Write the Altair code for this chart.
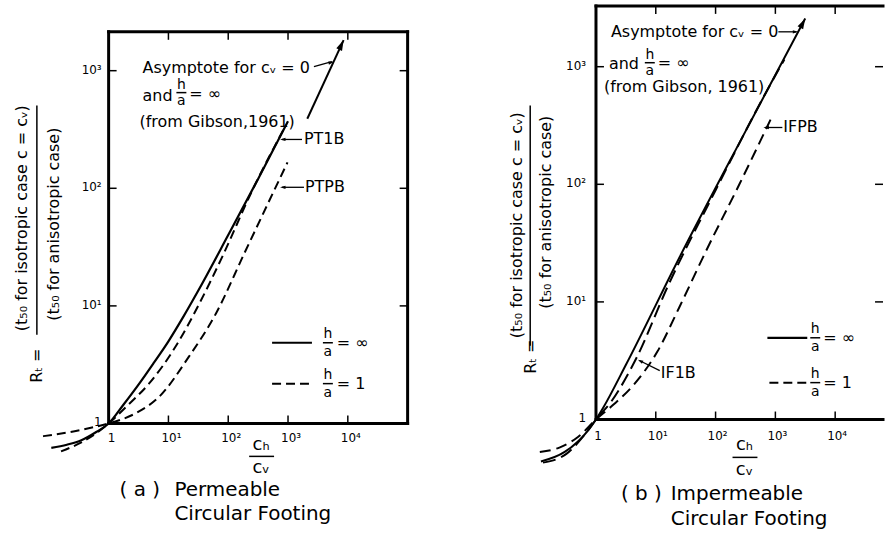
import altair as alt
import pandas as pd

FONT = "DejaVu Sans"
W, H = 443, 548  # each panel's drawing area

# ---------------- data ----------------
# Panel (a): permeable circular footing
a_solid_x = [0.11, 0.2, 0.35, 0.63, 1, 1.78, 3.16, 5.6, 10, 17.8, 31.6, 100, 316, 1000]
a_solid_y = [0.62, 0.66, 0.72, 0.85, 1, 1.45, 2.14, 3.24, 5.0, 8.1, 13.5, 40, 120, 372]
a_pt1b_x = [0.16, 0.35, 0.63, 1, 2, 4.8, 13.5, 33, 79, 250, 910]
a_pt1b_y = [0.58, 0.69, 0.83, 1, 1.4, 2.2, 4.6, 10.5, 26, 95, 340]
a_ptpb_x = [0.08, 0.27, 0.56, 1, 2.9, 7.1, 22, 63, 186, 980]
a_ptpb_y = [0.78, 0.86, 0.93, 1, 1.23, 1.7, 3.7, 8.7, 28, 166]
a_asym_x = [2100, 8500]
a_asym_y = [390, 1820]

# Panel (b): impermeable circular footing
b_solid_x = [0.12, 0.3, 0.74, 1, 1.32, 3.2, 25, 316, 3160]
b_solid_y = [0.44, 0.53, 0.81, 1, 1.26, 2.95, 24, 282, 2570]
b_if1b_x = [0.13, 0.32, 0.71, 1, 1.78, 4.7, 15.8, 100, 790, 1410]
b_if1b_y = [0.43, 0.51, 0.79, 1, 1.41, 3.3, 13.5, 89, 680, 1150]
b_ifpb_x = [0.115, 0.25, 0.5, 1, 1.9, 4.0, 10.7, 25, 69, 250, 830]
b_ifpb_y = [0.53, 0.58, 0.71, 1, 1.32, 1.9, 3.8, 9.1, 27, 100, 355]

x_ticks = [1, 10, 100, 1000, 10000]
x_tick_labels = ["1", "10¹", "10²", "10³", "10⁴"]
y_ticks = [1, 10, 100, 1000]
y_tick_labels = ["1", "10¹", "10²", "10³"]

ARROW = "M0,0L0.6,2L-0.6,2Z"


def log_scale(lo, hi):
    return alt.Scale(type="log", domain=[lo, hi], nice=False)


def curve(xs, ys, XS, YS, dash=None, width=2.2):
    df = pd.DataFrame({"x": xs, "y": ys})
    kw = dict(color="black", strokeWidth=width, interpolate="monotone")
    if dash:
        kw["strokeDash"] = dash
    return alt.Chart(df).mark_line(**kw).encode(
        x=alt.X("x:Q", scale=XS, axis=None),
        y=alt.Y("y:Q", scale=YS, axis=None),
    )


def frame(segs, XS, YS):
    df = pd.DataFrame(segs, columns=["x", "y", "x2", "y2"])
    return alt.Chart(df).mark_rule(color="black", strokeWidth=3, strokeCap="square").encode(
        x=alt.X("x:Q", scale=XS, axis=None), y=alt.Y("y:Q", scale=YS, axis=None),
        x2="x2:Q", y2="y2:Q")


def ticks(XS, YS, xlo, xhi, ylo, yhi, L=8, draw_right=True):
    xt = [v for v in x_ticks if v > 1]
    yt = [v for v in y_ticks if v > 1]
    out = []
    bot = pd.DataFrame({"x": xt, "y": [ylo] * len(xt)})
    top = pd.DataFrame({"x": xt, "y": [yhi] * len(xt)})
    lef = pd.DataFrame({"x": [xlo] * len(yt), "y": yt})
    rig = pd.DataFrame({"x": [xhi] * len(yt), "y": yt})
    for df, off in [(bot, dict(y2Offset=-L)), (top, dict(y2Offset=L))]:
        out.append(alt.Chart(df).mark_rule(color="black", strokeWidth=1.5, **off).encode(
            x=alt.X("x:Q", scale=XS, axis=None), y=alt.Y("y:Q", scale=YS, axis=None), y2="y:Q"))
    sides = [(lef, dict(x2Offset=L))]
    if draw_right:
        sides.append((rig, dict(x2Offset=-L)))
    for df, off in sides:
        out.append(alt.Chart(df).mark_rule(color="black", strokeWidth=1.5, **off).encode(
            x=alt.X("x:Q", scale=XS, axis=None), y=alt.Y("y:Q", scale=YS, axis=None), x2="x:Q"))
    return out


def tick_labels(XS, YS, xdy, xdx, ydx):
    dfx = pd.DataFrame({"v": x_ticks, "one": [1] * len(x_ticks), "t": x_tick_labels})
    dfy = pd.DataFrame({"v": y_ticks, "one": [1] * len(y_ticks), "t": y_tick_labels})
    lx = alt.Chart(dfx).mark_text(font=FONT, fontSize=12, align="center", baseline="middle",
                                  dy=xdy, dx=xdx, color="black").encode(
        x=alt.X("v:Q", scale=XS, axis=None), y=alt.Y("one:Q", scale=YS, axis=None), text="t:N")
    ly = alt.Chart(dfy).mark_text(font=FONT, fontSize=12, align="right", baseline="middle",
                                  dx=ydx, dy=-1, color="black").encode(
        x=alt.X("one:Q", scale=XS, axis=None), y=alt.Y("v:Q", scale=YS, axis=None), text="t:N")
    return [lx, ly]


def texts(rows, ox, align="left", angle=0):
    df = pd.DataFrame(rows, columns=["t", "px", "py", "fs"])
    df["px"] = df["px"] - ox
    return alt.Chart(df).mark_text(font=FONT, align=align, baseline="middle", angle=angle,
                                   color="black").encode(
        x=alt.X("px:Q", scale=None, axis=None), y=alt.Y("py:Q", scale=None, axis=None),
        text="t:N", size=alt.Size("fs:Q", scale=None, legend=None))


def segs(rows, ox, width=1.5, dash=None):
    df = pd.DataFrame(rows, columns=["px", "py", "px2", "py2"])
    df["px"] = df["px"] - ox
    df["px2"] = df["px2"] - ox
    kw = dict(color="black", strokeWidth=width)
    if dash:
        kw["strokeDash"] = dash
    return alt.Chart(df).mark_rule(**kw).encode(
        x=alt.X("px:Q", scale=None, axis=None), y=alt.Y("py:Q", scale=None, axis=None),
        x2="px2:Q", y2="py2:Q")


def heads(rows, ox, size=30):
    df = pd.DataFrame(rows, columns=["px", "py", "ang"])
    df["px"] = df["px"] - ox
    return alt.Chart(df).mark_point(shape=ARROW, filled=True, color="black", opacity=1,
                                    size=size, strokeWidth=0).encode(
        x=alt.X("px:Q", scale=None, axis=None), y=alt.Y("py:Q", scale=None, axis=None),
        angle=alt.Angle("ang:Q", scale=None))


def tip(xs, ys, XS, YS, ang, size=110):
    df = pd.DataFrame({"x": [xs[-1]], "y": [ys[-1]]})
    return alt.Chart(df).mark_point(shape=ARROW, filled=True, color="black", opacity=1,
                                    size=size, strokeWidth=0, angle=ang).encode(
        x=alt.X("x:Q", scale=XS, axis=None), y=alt.Y("y:Q", scale=YS, axis=None))


# ---------------- panel (a) ----------------
ax0, ay0 = 109, 424
XA = log_scale(10 ** (-ax0 / 60), 10 ** ((W - ax0) / 60))
YA = log_scale(10 ** ((ay0 - H) / 118), 10 ** (ay0 / 118))
a_top = 10 ** ((ay0 - 31) / 118)
a_right = 1e5

layers_a = [
    frame([(1, 1, 1, a_top), (1, 1, a_right, 1), (1, a_top, a_right, a_top),
           (a_right, 1, a_right, a_top)], XA, YA),
    *ticks(XA, YA, 1, a_right, 1, a_top),
    *tick_labels(XA, YA, 15, 3, -7),
    curve(a_solid_x, a_solid_y, XA, YA),
    curve(a_pt1b_x, a_pt1b_y, XA, YA, dash=[9, 5], width=2),
    curve(a_ptpb_x, a_ptpb_y, XA, YA, dash=[9, 5], width=2),
    curve(a_asym_x, a_asym_y, XA, YA, width=2),
    tip(a_asym_x, a_asym_y, XA, YA, 25),
    texts([
        ("Asymptote for cᵥ = 0", 143, 67, 16),
        ("and", 143, 95, 16),
        ("= ∞", 190, 93, 16),
        ("(from Gibson,1961)", 140, 122, 16),
        ("PT1B", 305, 139, 16),
        ("PTPB", 306, 187, 16),
        ("= ∞", 338, 343, 16),
        ("= 1", 338, 384, 16),
        ("( a )", 120, 491, 20),
        ("Permeable", 175, 491, 20),
        ("Circular Footing", 175, 515, 20),
    ], 0),
    texts([
        ("h", 182, 84, 14), ("a", 182, 100, 14),
        ("h", 329, 334, 14), ("a", 329, 352, 14),
        ("h", 329, 375, 14), ("a", 329, 393, 14),
        ("cₕ", 262, 446, 18), ("cᵥ", 262, 469, 18),
    ], 0, align="center"),
    texts([
        ("(t₅₀ for isotropic case c = cᵥ)", 22, 218, 16),
        ("(t₅₀ for anisotropic case)", 54, 224, 16),
        ("Rₜ =", 37, 366, 16),
    ], 0, align="center", angle=270),
    segs([(177, 92, 187, 92), (324, 343, 334, 343), (324, 384, 334, 384),
          (250, 457, 275, 457), (37, 105, 37, 335)], 0),
    segs([(273, 343, 313, 343)], 0, width=2.2),
    segs([(273, 384, 313, 384)], 0, width=2, dash=[9, 5]),
    segs([(315, 66, 333, 61), (303, 139, 283, 139), (305, 187, 283, 187)], 0, width=1.3),
    heads([(335, 61, 76), (281, 139, 270), (281, 187, 270)], 0),
]
panel_a = alt.layer(*layers_a).resolve_scale(x="independent", y="independent").properties(
    width=W, height=H)

# ---------------- panel (b) ----------------
OX = 443
bx0, by0 = 598 - OX, 420
XB = log_scale(10 ** (-bx0 / 60), 10 ** ((W - bx0) / 60))
YB = log_scale(10 ** ((by0 - H) / 118), 10 ** (by0 / 118))
b_top = 10 ** ((by0 - 5) / 118)
b_right = 10 ** ((W - bx0) / 60)

layers_b = [
    frame([(1, 1, 1, b_top), (1, 1, b_right, 1), (1, b_top, b_right, b_top)], XB, YB),
    *ticks(XB, YB, 1, b_right, 1, b_top, L=8),
    *tick_labels(XB, YB, 17, 2, -10),
    curve(b_solid_x, b_solid_y, XB, YB, width=2),
    curve(b_if1b_x, b_if1b_y, XB, YB, dash=[13, 6], width=2),
    curve(b_ifpb_x, b_ifpb_y, XB, YB, dash=[11, 6], width=2),
    tip(b_solid_x, b_solid_y, XB, YB, 28),
    texts([
        ("Asymptote for cᵥ = 0", 613, 31, 16),
        ("and", 611, 63, 16),
        ("= ∞", 660, 62, 16),
        ("(from Gibson, 1961)", 606, 86, 16),
        ("IFPB", 786, 127, 16),
        ("IF1B", 663, 373, 16),
        ("= ∞", 826, 338, 16),
        ("= 1", 826, 383, 16),
        ("( b )", 623, 495, 20),
        ("Impermeable", 673, 495, 20),
        ("Circular Footing", 673, 520, 20),
    ], OX),
    texts([
        ("h", 652, 54, 14), ("a", 652, 70, 14),
        ("h", 818, 329, 14), ("a", 818, 347, 14),
        ("h", 818, 374, 14), ("a", 818, 392, 14),
        ("cₕ", 747, 446, 18), ("cᵥ", 747, 471, 18),
    ], OX, align="center"),
    texts([
        ("(t₅₀ for isotropic case c = cᵥ)", 519, 225, 16),
        ("(t₅₀ for anisotropic case)", 548, 212, 16),
        ("Rₜ =", 533, 357, 16),
    ], OX, align="center", angle=270),
    segs([(647, 62, 657, 62), (813, 338, 823, 338), (813, 383, 823, 383),
          (735, 458, 760, 458), (532, 105, 532, 346)], OX),
    segs([(770, 338, 810, 338)], OX, width=2.2),
    segs([(772, 383, 810, 383)], OX, width=2, dash=[9, 5]),
    segs([(781, 31, 799, 31), (785, 127, 768, 127), (662, 371, 642, 361)], OX, width=1.3),
    heads([(801, 31, 90), (766, 127, 270), (640, 360, 297)], OX),
]
panel_b = alt.layer(*layers_b).resolve_scale(x="independent", y="independent").properties(
    width=W, height=H)

chart = alt.hconcat(panel_a, panel_b, spacing=0, bounds="flush").properties(
    padding=0, background="white"
).configure_view(stroke=None)

chart.save("out.html", embed_options={"renderer": "svg", "actions": False})
